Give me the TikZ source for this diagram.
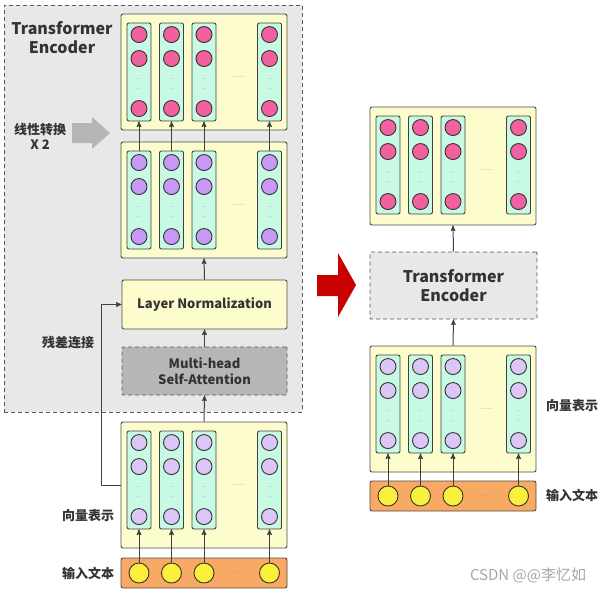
\documentclass[tikz,border=0pt]{standalone}
\usepackage{fontspec}
\setmainfont{Noto Sans CJK SC}
\usetikzlibrary{arrows,positioning}

\definecolor{regiongray}{RGB}{232,232,232}
\definecolor{boxyellow}{RGB}{253,252,204}
\definecolor{colmint}{RGB}{200,249,226}
\definecolor{ballpink}{RGB}{242,96,160}
\definecolor{ballpurple}{RGB}{200,152,245}
\definecolor{balllav}{RGB}{220,198,245}
\definecolor{ballyellow}{RGB}{250,240,60}
\definecolor{inorange}{RGB}{248,170,100}
\definecolor{attgray}{RGB}{182,182,182}
\definecolor{arrowred}{RGB}{200,0,0}
\definecolor{arrowgray}{RGB}{182,182,182}

\tikzset{
  blockbox/.style={draw=black!70,fill=boxyellow,rounded corners=2pt,line width=0.9pt,minimum width=166pt,inner sep=0pt},
  colbox/.style={draw=black!75,fill=colmint,rounded corners=2pt,line width=0.9pt,minimum width=24pt,minimum height=98pt,inner sep=0pt},
  ball/.style={circle,draw=black!80,line width=0.9pt,minimum size=16pt,inner sep=0pt},
  inbox/.style={draw=black!70,fill=inorange,rounded corners=2pt,line width=0.9pt,minimum width=166pt,minimum height=30pt,inner sep=0pt},
  tinydots/.style={text=black!40,font=\fontsize{6}{6}\selectfont,inner sep=0pt},
  dashbox/.style={draw=black!65,dashed,dash pattern=on 4pt off 3pt,line width=0.9pt,rounded corners=1pt,align=center,text=black!80,font=\bfseries\fontsize{13}{16}\selectfont},
  arr/.style={->,>=stealth',line width=1pt,draw=black!75},
  lbl/.style={font=\bfseries\fontsize{13}{15}\selectfont,text=black!80,align=center},
}

% block of four vector columns
\newcommand{\vecblock}[5]{%
  \node[blockbox,minimum height=#4pt] (#1) at (#2+83,#3+#4/2) {};
  \node[tinydots,font=\fontsize{7}{7}\selectfont] (#1-gap) at (#2+117,#3+63) {......};
  \foreach \cx [count=\n] in {18,50.5,83,148.5} {
    \node[colbox] (#1\n) at (#2+\cx,#3+58) {};
    \node[ball,fill=#5] (#1\n-a) at ([yshift=-12pt]#1\n.north) {};
    \node[ball,fill=#5] (#1\n-b) at ([yshift=-36pt]#1\n.north) {};
    \node[ball,fill=#5] (#1\n-c) at ([yshift=-86pt]#1\n.north) {};
    \node[tinydots] (#1\n-d) at ([yshift=-57pt]#1\n.north) {...};
    \node[tinydots] (#1\n-e) at ([yshift=-67pt]#1\n.north) {...};
  }
}

% row of input tokens
\newcommand{\inrow}[3]{%
  \node[inbox] (#1) at (#2+83,#3+15) {};
  \node[tinydots,font=\fontsize{7}{7}\selectfont] (#1-gap) at (#2+117,#3+15) {......};
  \foreach \cx [count=\n] in {18,50.5,83,148.5}
    \node[ball,fill=ballyellow,minimum size=20pt] (#1\n) at (#2+\cx,#3+15) {};
}

\begin{document}
\begin{tikzpicture}[x=1pt,y=-1pt]
\useasboundingbox (0,0) rectangle (604,592);

% left: inside the encoder
\node[draw=black!65,fill=regiongray,dashed,dash pattern=on 4pt off 3pt,line width=0.9pt,minimum width=298pt,minimum height=407pt,inner sep=0pt] (enc) at (153,208.5) {};
\node[font=\bfseries\fontsize{16}{19}\selectfont,text=black!80,align=center] (enctitle) at (62,38) {Transformer\\Encoder};

\vecblock{K}{121}{14}{116}{ballpink}
\vecblock{P}{121}{142}{116}{ballpurple}
\foreach \n in {1,...,4}
  \draw[arr] (P\n.north) -- (K\n.south);

\fill[arrowgray] (72,123) -- (92,123) -- (92,117) -- (110,133) -- (92,149) -- (92,143) -- (72,143) -- cycle;
\node[lbl] (lin) at (40,136) {线性转换\\X 2};

\node[draw=black!70,fill=boxyellow,rounded corners=2pt,line width=0.9pt,minimum width=165pt,minimum height=49pt,inner sep=0pt,text=black!80,font=\bfseries\fontsize{13}{15}\selectfont] (LN) at (204.5,304.5) {Layer Normalization};
\node[dashbox,fill=attgray,minimum width=165pt,minimum height=48pt,inner sep=0pt] (MHSA) at (204.5,371) {Multi-head\\Self-Attention};

\vecblock{V}{121}{422}{126}{balllav}
\inrow{I}{121}{558}
\foreach \n in {1,...,4}
  \draw[arr] (I\n.north) -- (V\n.south);

\draw[arr] (V.north) -- (MHSA.south);
\draw[arr] (MHSA.north) -- (LN.south);
\draw[arr] (LN.north) -- (P.south);
\coordinate (res) at (101,0);
\draw[arr] (V.west) -| (res |- LN.west) -- (LN.west);

\node[lbl] (reslbl) at (68,343) {残差连接};
\node[lbl] (veclbl) at (88,516) {向量表示};
\node[lbl] (inlbl) at (88,573) {输入文本};

% red arrow
\fill[arrowred] (317,275) -- (338,275) -- (338,253) -- (356,285) -- (338,317) -- (338,296) -- (317,296) -- cycle;

% right: whole model
\vecblock{RK}{370}{107}{118}{ballpink}
\node[dashbox,fill=regiongray,minimum width=167pt,minimum height=67pt,inner sep=0pt,font=\bfseries\fontsize{16}{19}\selectfont] (RTE) at (453.5,285.5) {Transformer\\Encoder};
\vecblock{RV}{370}{346}{126}{balllav}
\inrow{RI}{370}{481}
\foreach \n in {1,...,4}
  \draw[arr] (RI\n.north) -- (RV\n.south);
\draw[arr] (RV.north) -- (RTE.south);
\draw[arr] (RTE.north) -- (RK.south);

\node[lbl] (rveclbl) at (572,406) {向量表示};
\node[lbl] (rinlbl) at (572,495) {输入文本};

\node[text=black!35,font=\fontsize{15}{15}\selectfont] (mark) at (528,575) {CSDN @@李忆如};
\end{tikzpicture}
\end{document}
